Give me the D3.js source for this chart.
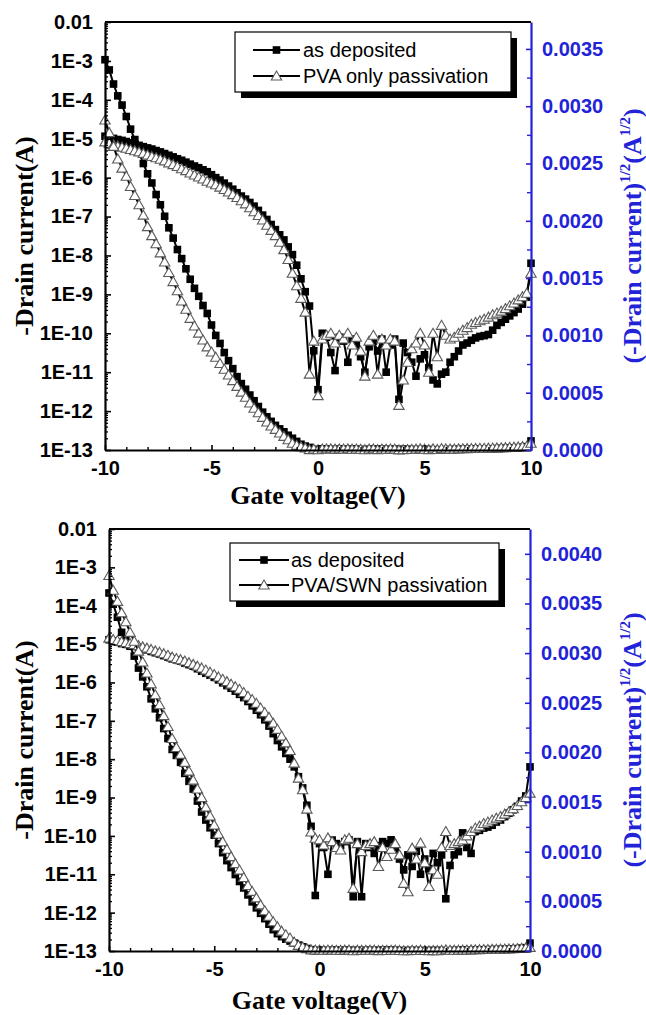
<!DOCTYPE html>
<html><head><meta charset="utf-8">
<script src="https://cdn.jsdelivr.net/npm/d3@7"></script>
<style>body{margin:0;background:#fff;} svg{display:block;}</style>
</head><body><svg id="chart" width="646" height="1015"></svg>
<script>
// ---------------- DATA ----------------
const gateVoltage = [-10,-9.8,-9.6,-9.4,-9.2,-9,-8.8,-8.6,-8.4,-8.2,-8,-7.8,-7.6,-7.4,-7.2,-7,-6.8,-6.6,-6.4,-6.2,
 -6,-5.8,-5.6,-5.4,-5.2,-5,-4.8,-4.6,-4.4,-4.2,-4,-3.8,-3.6,-3.4,-3.2,-3,-2.8,-2.6,-2.4,-2.2,
 -2,-1.8,-1.6,-1.4,-1.2,-1,-0.8,-0.6,-0.4,-0.2,0,0.2,0.4,0.6,0.8,1,1.2,1.4,1.6,1.8,
 2,2.2,2.4,2.6,2.8,3,3.2,3.4,3.6,3.8,4,4.2,4.4,4.6,4.8,5,5.2,5.4,5.6,5.8,
 6,6.2,6.4,6.6,6.8,7,7.2,7.4,7.6,7.8,8,8.2,8.4,8.6,8.8,9,9.2,9.4,9.6,9.8,10];

// Top panel: -Drain current (A)
const topAsDeposited = [1.16e-5,1.10e-5,1.02e-5,9.55e-6,9.06e-6,8.47e-6,7.84e-6,7.34e-6,6.76e-6,6.25e-6,
 5.81e-6,5.43e-6,4.97e-6,4.58e-6,4.16e-6,3.76e-6,3.42e-6,3.06e-6,2.79e-6,2.50e-6,
 2.22e-6,1.99e-6,1.80e-6,1.59e-6,1.42e-6,1.19e-6,1.00e-6,8.65e-7,7.23e-7,6.08e-7,
 5.04e-7,4.10e-7,3.36e-7,2.81e-7,2.30e-7,1.85e-7,1.44e-7,1.09e-7,8.41e-8,6.25e-8,
 4.62e-8,3.39e-8,2.51e-8,1.66e-8,1.05e-8,5.62e-9,2.51e-9,1.17e-9,5.01e-10,3.55e-11,
 3.55e-12,1.0e-10,
 7.9e-11,3.2e-11,1.1e-11,7.9e-11,6.3e-11,1.8e-11,7.1e-11,5.0e-11,2.5e-11,1.0e-11,
 4.5e-11,6.3e-11,3.5e-11,7.1e-11,1.0e-11,5.0e-11,7.1e-11,2.0e-12,5.6e-11,3.2e-11,
 1.8e-11,7.9e-12,2.2e-11,2.8e-11,1.3e-11,6.3e-12,5.0e-12,8.9e-12,1.0e-11,1.8e-11,
 2.5e-11,3.5e-11,5.0e-11,5.6e-11,6.6e-11,7.6e-11,8.3e-11,8.7e-11,9.3e-11,1.2e-10,
 1.6e-10,1.9e-10,2.3e-10,2.8e-10,3.4e-10,4.2e-10,5.6e-10,8.5e-10,6.3e-9];

const topPVAOnly = [8.29e-6,7.67e-6,7.02e-6,6.45e-6,6.05e-6,5.71e-6,5.29e-6,4.93e-6,4.58e-6,4.20e-6,
 3.80e-6,3.50e-6,3.24e-6,2.96e-6,2.69e-6,2.40e-6,2.16e-6,1.93e-6,1.69e-6,1.51e-6,
 1.32e-6,1.17e-6,1.04e-6,9.22e-7,8.10e-7,7.31e-7,6.56e-7,5.70e-7,4.97e-7,4.29e-7,
 3.66e-7,3.08e-7,2.55e-7,2.12e-7,1.68e-7,1.33e-7,1.06e-7,8.12e-8,6.00e-8,4.41e-8,
 3.24e-8,2.19e-8,1.41e-8,7.9e-9,3.5e-9,1.66e-9,7.9e-10,3.5e-10,8.9e-12,6.3e-11,
 2.5e-12,7.1e-11,
 8.9e-11,1.0e-10,5.6e-11,8.9e-11,7.1e-11,1.0e-10,5.0e-11,7.9e-11,3.5e-11,7.9e-12,
 6.3e-11,8.9e-11,8.9e-12,7.1e-11,5.0e-11,7.1e-11,6.3e-11,1.4e-12,6.3e-12,1.8e-11,
 4.0e-11,5.6e-11,1.0e-10,5.0e-11,1.0e-11,1.0e-10,2.5e-11,1.6e-10,8.9e-11,7.1e-11,
 7.9e-11,1.0e-10,1.2e-10,1.4e-10,1.7e-10,1.9e-10,2.1e-10,2.3e-10,2.6e-10,3.0e-10,
 3.3e-10,3.7e-10,4.3e-10,5.1e-10,6.0e-10,7.2e-10,8.7e-10,1.07e-9,3.5e-9];

// Bottom panel: -Drain current (A)
const bottomAsDeposited = [1.30e-5,1.22e-5,1.13e-5,1.03e-5,9.86e-6,9.42e-6,8.82e-6,8.12e-6,7.62e-6,7.08e-6,
 6.45e-6,5.95e-6,5.52e-6,5.02e-6,4.58e-6,4.12e-6,3.88e-6,3.61e-6,3.20e-6,2.92e-6,
 2.66e-6,2.28e-6,1.96e-6,1.74e-6,1.54e-6,1.36e-6,1.17e-6,9.80e-7,8.28e-7,7.06e-7,
 5.93e-7,4.90e-7,4.03e-7,3.19e-7,2.45e-7,1.89e-7,1.44e-7,1.06e-7,7.29e-8,4.62e-8,
 3.06e-8,2.1e-8,1.41e-8,1.0e-8,6.3e-9,3.5e-9,1.78e-9,6.3e-10,1.78e-10,2.8e-12,
 6.3e-11,5.0e-11,1.0e-11,7.8e-11,6.3e-11,5.6e-11,7.1e-11,7.9e-11,2.6e-12,7.1e-11,
 2.6e-12,6.3e-11,5.0e-11,3.5e-11,5.6e-11,7.1e-11,6.3e-11,7.9e-11,5.0e-11,2.5e-11,
 1.3e-11,3.2e-11,1.6e-11,4.0e-11,1.0e-11,2.5e-11,1.4e-11,3.5e-11,2.0e-11,3.2e-11,
 2.3e-12,1.7e-11,3.2e-11,3.9e-11,1.2e-10,5.0e-11,3.5e-11,1.3e-10,1.4e-10,1.6e-10,
 1.7e-10,1.9e-10,2.3e-10,2.6e-10,3.2e-10,3.9e-10,4.8e-10,5.9e-10,8.1e-10,1.1e-9,
 6.3e-9];

const bottomPVASWN = [1.43e-5,1.32e-5,1.24e-5,1.16e-5,1.10e-5,1.03e-5,9.73e-6,9.12e-6,8.47e-6,7.84e-6,
 7.24e-6,6.66e-6,6.15e-6,5.62e-6,5.11e-6,4.58e-6,4.20e-6,3.92e-6,3.61e-6,3.28e-6,
 2.96e-6,2.66e-6,2.39e-6,2.10e-6,1.85e-6,1.61e-6,1.39e-6,1.21e-6,1.05e-6,9.03e-7,
 7.74e-7,6.64e-7,5.48e-7,4.36e-7,3.60e-7,2.86e-7,2.16e-7,1.64e-7,1.23e-7,8.70e-8,
 6.00e-8,4.00e-8,2.66e-8,1.69e-8,7.9e-9,3.2e-9,1.6e-9,5.0e-10,1.26e-10,8.7e-11,
 7.9e-11,5.8e-11,8.9e-11,7.1e-11,5.0e-11,4.3e-11,7.9e-11,8.7e-11,4.3e-12,6.3e-11,
 3.9e-11,5.6e-11,6.3e-11,7.1e-11,1.6e-11,5.0e-11,2.9e-11,4.5e-11,6.3e-11,3.2e-11,
 5.8e-12,3.5e-12,4.8e-11,2.5e-11,6.5e-11,2.0e-11,4.8e-12,1.3e-11,1.0e-11,5.0e-11,
 1.3e-10,5.6e-11,6.3e-11,7.1e-11,7.8e-11,1.0e-10,1.3e-10,1.6e-10,1.8e-10,2.1e-10,
 2.3e-10,2.6e-10,2.9e-10,3.2e-10,3.7e-10,4.3e-10,5.1e-10,6.2e-10,7.8e-10,1.0e-9,
 1.3e-9];

const leftTickValues = [1e-2,1e-3,1e-4,1e-5,1e-6,1e-7,1e-8,1e-9,1e-10,1e-11,1e-12,1e-13];
const leftTickLabels = ["0.01","1E-3","1E-4","1E-5","1E-6","1E-7","1E-8","1E-9","1E-10","1E-11","1E-12","1E-13"];
const xTickValues = [-10,-5,0,5,10];
const xTickLabels = ["-10","-5","0","5","10"];
const topRightTicks = [0,0.0005,0.001,0.0015,0.002,0.0025,0.003,0.0035];
const topRightLabels = ["0.0000","0.0005","0.0010","0.0015","0.0020","0.0025","0.0030","0.0035"];
const bottomRightTicks = [0,0.0005,0.001,0.0015,0.002,0.0025,0.003,0.0035,0.004];
const bottomRightLabels = ["0.0000","0.0005","0.0010","0.0015","0.0020","0.0025","0.0030","0.0035","0.0040"];
const topLegendLabels = ["as deposited","PVA only passivation"];
const bottomLegendLabels = ["as deposited","PVA/SWN passivation"];

// ---------------- DRAWING ----------------
const svg = d3.select("#chart");
const BLUE = "#2222d8";
const SANS = "'Liberation Sans', Arial, sans-serif";
const SERIF = "'Liberation Serif', 'Times New Roman', serif";

function marker(sel, kind) {
  if (kind === "square") {
    sel.append("rect").attr("x", -3.8).attr("y", -3.8).attr("width", 7.6).attr("height", 7.6).attr("fill", "#000");
  } else {
    sel.append("path").attr("d", "M0,-5L5.2,4L-5.2,4Z").attr("fill", "#fff").attr("stroke", "#5a5a5a").attr("stroke-width", 1.1);
  }
}

function drawPanel(cfg) {
  const g = svg.append("g");
  const x = d3.scaleLinear().domain([-10, 10]).range([cfg.left, cfg.right]);
  const yL = d3.scaleLog().domain([1e-13, 1e-2]).range([cfg.bottom, cfg.top]);
  const yR = d3.scaleLinear().domain([0, cfg.rightMax]).range([cfg.bottom, cfg.top]);

  // curves
  cfg.series.forEach(s => {
    const pts = gateVoltage.map((v, i) => ({v: v, c: s.values[i]}));
    [["log", d => yL(d.c)], ["sqrt", d => yR(Math.sqrt(d.c))]].forEach(([name, yf]) => {
      const cg = g.append("g");
      cg.append("path").datum(pts)
        .attr("d", d3.line().x(d => x(d.v)).y(yf))
        .attr("fill", "none").attr("stroke", "#000").attr("stroke-width", 2);
      cg.selectAll("g.m").data(pts).join("g").attr("class", "m")
        .attr("transform", d => `translate(${x(d.v)},${yf(d)})`)
        .each(function() { marker(d3.select(this), s.kind); });
    });
  });

  // top frame line
  g.append("line").attr("x1", cfg.left).attr("x2", cfg.right).attr("y1", cfg.top).attr("y2", cfg.top)
    .attr("stroke", "#000").attr("stroke-width", 2);

  // left axis
  const minorLog = [];
  for (let e = -13; e < -2; e++) for (let m = 2; m < 10; m++) minorLog.push(m * Math.pow(10, e));
  const gl = g.append("g").attr("transform", `translate(${cfg.left},0)`)
    .call(d3.axisLeft(yL).tickValues(leftTickValues).tickFormat((d, i) => leftTickLabels[i])
      .tickSizeInner(-6).tickSizeOuter(0).tickPadding(12));
  g.append("g").attr("transform", `translate(${cfg.left},0)`)
    .call(d3.axisLeft(yL).tickValues(minorLog).tickFormat("").tickSizeInner(-3).tickSizeOuter(0))
    .call(a => a.select(".domain").remove())
    .selectAll("line").attr("stroke-width", 1.3);
  gl.attr("font-family", SANS).attr("font-size", 20).attr("font-weight", "bold");
  gl.select(".domain").attr("stroke-width", 2.2);
  gl.selectAll(".tick line").attr("stroke-width", 1.6);

  // bottom axis
  const gb = g.append("g").attr("transform", `translate(0,${cfg.bottom})`)
    .call(d3.axisBottom(x).tickValues(xTickValues).tickFormat((d, i) => xTickLabels[i])
      .tickSizeInner(-5).tickSizeOuter(0).tickPadding(11));
  g.append("g").attr("transform", `translate(0,${cfg.bottom})`)
    .call(d3.axisBottom(x).tickValues([-9,-8,-7,-6,-4,-3,-2,-1,1,2,3,4,6,7,8,9]).tickFormat("").tickSizeInner(-3).tickSizeOuter(0))
    .call(a => a.select(".domain").remove())
    .selectAll("line").attr("stroke-width", 1.4);
  gb.attr("font-family", SANS).attr("font-size", 20).attr("font-weight", "bold");
  gb.select(".domain").attr("stroke-width", 2.2);
  gb.selectAll(".tick line").attr("stroke-width", 1.6);

  // right axis
  const gr = g.append("g").attr("transform", `translate(${cfg.right},0)`)
    .call(d3.axisRight(yR).tickValues(cfg.rightTicks).tickFormat((d, i) => cfg.rightLabels[i])
      .tickSizeInner(-5).tickSizeOuter(0).tickPadding(11));
  g.append("g").attr("transform", `translate(${cfg.right},0)`)
    .call(d3.axisRight(yR).tickValues(cfg.rightTicks.map(t => t + 0.00025).filter(t => t < cfg.rightMax))
      .tickFormat("").tickSizeInner(-4).tickSizeOuter(0))
    .call(a => a.select(".domain").remove())
    .selectAll("line").attr("stroke", BLUE).attr("stroke-width", 1.4);
  gr.attr("font-family", SANS).attr("font-size", 20).attr("font-weight", "bold");
  gr.select(".domain").attr("stroke", BLUE).attr("stroke-width", 2.2);
  gr.selectAll(".tick line").attr("stroke", BLUE).attr("stroke-width", 1.6);
  gr.selectAll(".tick text").attr("fill", BLUE);

  // axis titles
  g.append("text").attr("x", (cfg.left + cfg.right) / 2).attr("y", cfg.xTitleY)
    .attr("text-anchor", "middle").attr("font-family", SERIF).attr("font-weight", "bold").attr("font-size", 26)
    .text("Gate voltage(V)");
  const midY = (cfg.top + cfg.bottom) / 2;
  g.append("text").attr("transform", `translate(33,${midY}) rotate(-90)`)
    .attr("text-anchor", "middle").attr("font-family", SERIF).attr("font-weight", "bold").attr("font-size", 26)
    .text("-Drain current(A)");
  const rt = g.append("text").attr("transform", `translate(641,${midY}) rotate(-90)`)
    .attr("text-anchor", "middle").attr("font-family", SERIF).attr("font-weight", "bold").attr("font-size", 26)
    .attr("fill", BLUE);
  rt.append("tspan").text("(-Drain current)");
  rt.append("tspan").attr("dy", -11).attr("font-size", 15).text("1/2");
  rt.append("tspan").attr("dy", 11).text("(A");
  rt.append("tspan").attr("dy", -11).attr("font-size", 15).text("1/2");
  rt.append("tspan").attr("dy", 11).text(")");

  // legend
  const L = cfg.legend;
  const lg = g.append("g");
  lg.append("rect").attr("x", L.x + 6).attr("y", L.y + 6).attr("width", L.w).attr("height", L.h).attr("fill", "#000");
  lg.append("rect").attr("x", L.x).attr("y", L.y).attr("width", L.w).attr("height", L.h)
    .attr("fill", "#fff").attr("stroke", "#000").attr("stroke-width", 1.2);
  cfg.series.forEach((s, i) => {
    const ry = L.rows[i];
    lg.append("line").attr("x1", L.lx1).attr("x2", L.lx2).attr("y1", ry).attr("y2", ry)
      .attr("stroke", "#000").attr("stroke-width", 2);
    marker(lg.append("g").attr("transform", `translate(${(L.lx1 + L.lx2) / 2},${ry})`), s.kind);
    lg.append("text").attr("x", L.tx).attr("y", ry).attr("dy", "0.36em")
      .attr("font-family", SANS).attr("font-size", 20).text(cfg.legendLabels[i]);
  });
}

drawPanel({
  left: 105, right: 531, top: 22, bottom: 450, rightMax: 0.003735,
  rightTicks: topRightTicks, rightLabels: topRightLabels, xTitleY: 504,
  series: [{kind: "square", values: topAsDeposited}, {kind: "triangle", values: topPVAOnly}],
  legendLabels: topLegendLabels,
  legend: {x: 235, y: 32, w: 276, h: 60, rows: [50, 76], lx1: 253, lx2: 300, tx: 303}
});
drawPanel({
  left: 109, right: 530, top: 529, bottom: 951, rightMax: 0.00425,
  rightTicks: bottomRightTicks, rightLabels: bottomRightLabels, xTitleY: 1009,
  series: [{kind: "square", values: bottomAsDeposited}, {kind: "triangle", values: bottomPVASWN}],
  legendLabels: bottomLegendLabels,
  legend: {x: 230, y: 543, w: 269, h: 58, rows: [560, 585], lx1: 239, lx2: 289, tx: 291}
});
</script>
</body></html>
